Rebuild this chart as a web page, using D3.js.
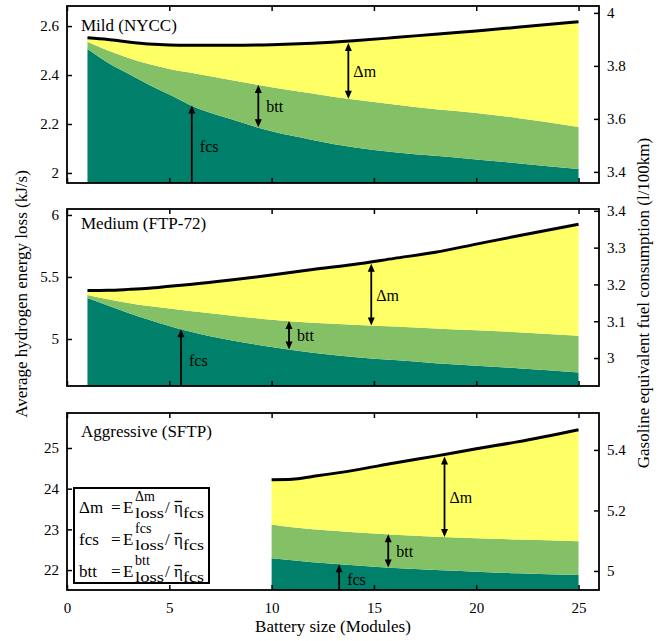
<!DOCTYPE html>
<html>
<head>
<meta charset="utf-8">
<script src="https://cdn.jsdelivr.net/npm/d3@7"></script>
<style>
body { margin: 0; background: #fff; }
text { font-family: "Liberation Serif", "DejaVu Serif", serif; fill: #000; }
</style>
</head>
<body>
<svg id="chart" width="665" height="641"></svg>
<script>
// battery sizes (modules) where values were read
var modules = [1, 2, 3, 4, 5, 6, 8, 10, 12, 14, 16, 18, 20, 22, 25];
var aggrModules = [10, 11, 12, 14, 16, 18, 20, 22, 25];

// Mild (NYCC), kJ/s
var mildFcs = [2.506, 2.45, 2.405, 2.36, 2.32, 2.278, 2.22, 2.17, 2.135, 2.105, 2.085, 2.07, 2.055, 2.04, 2.016];
var mildBtt = [0.030, 0.050, 0.065, 0.085, 0.105, 0.132, 0.160, 0.180, 0.190, 0.195, 0.195, 0.190, 0.190, 0.185, 0.172];
var mildDm  = [0.016, 0.045, 0.065, 0.082, 0.098, 0.112, 0.142, 0.174, 0.205, 0.240, 0.273, 0.307, 0.335, 0.370, 0.430];

// Medium (FTP-72)
var medFcs = [5.33, 5.27, 5.21, 5.155, 5.105, 5.06, 4.99, 4.935, 4.89, 4.855, 4.83, 4.805, 4.785, 4.765, 4.73];
var medBtt = [0.025, 0.05, 0.08, 0.11, 0.14, 0.165, 0.20, 0.22, 0.24, 0.26, 0.27, 0.28, 0.285, 0.29, 0.297];
var medDm  = [0.035, 0.072, 0.11, 0.145, 0.18, 0.215, 0.285, 0.36, 0.43, 0.485, 0.55, 0.615, 0.695, 0.775, 0.898];

// Aggressive (SFTP)
var aggrFcs = [22.29, 22.24, 22.19, 22.12, 22.05, 22.00, 21.96, 21.92, 21.88];
var aggrBtt = [0.83, 0.81, 0.81, 0.81, 0.82, 0.82, 0.82, 0.83, 0.83];
var aggrDm  = [1.10, 1.18, 1.30, 1.52, 1.76, 1.98, 2.20, 2.40, 2.74];

// where the fcs / btt / dm arrows stand (modules)
var mildArrows = [6.1, 9.35, 13.75];
var medArrows = [5.57, 10.85, 14.87];
var aggrArrows = [13.3, 15.7, 18.45];

var xTicks = [0, 5, 10, 15, 20, 25];
var legendNames = ["\u0394m", "fcs", "btt"];

var svg = d3.select("#chart");
var left = 67, right = 599;
var colors = { fcs: "#00806a", btt: "#84c166", dm: "#ffff66" };

var x = d3.scaleLinear().domain([0, 26]).range([left, right]);

var panels = [
  { title: "Mild (NYCC)", top: 6, bottom: 183, titleY: 31,
    yDomain: [1.959, 2.682], yTicks: [2, 2.2, 2.4, 2.6],
    rDomain: [3.358, 4.026], rTicks: [3.4, 3.6, 3.8, 4],
    mods: modules, fcs: mildFcs, btt: mildBtt, dm: mildDm, arrows: mildArrows },
  { title: "Medium (FTP-72)", top: 209, bottom: 386, titleY: 229,
    yDomain: [4.621, 6.048], yTicks: [5, 5.5, 6],
    rDomain: [2.924, 3.405], rTicks: [3, 3.1, 3.2, 3.3, 3.4],
    mods: modules, fcs: medFcs, btt: medBtt, dm: medDm, arrows: medArrows },
  { title: "Aggressive (SFTP)", top: 413, bottom: 590, titleY: 437,
    yDomain: [21.51, 25.86], yTicks: [22, 23, 24, 25],
    rDomain: [4.937, 5.522], rTicks: [5, 5.2, 5.4],
    mods: aggrModules, fcs: aggrFcs, btt: aggrBtt, dm: aggrDm, arrows: aggrArrows, xLabels: true }
];

var defs = svg.append("defs");

function arrowHead(g, ax, ay, dir) {
  // dir -1 = pointing up, 1 = pointing down
  g.append("path")
    .attr("d", "M" + ax + "," + ay + "L" + (ax - 3.5) + "," + (ay - dir * 8) + "L" + (ax + 3.5) + "," + (ay - dir * 8) + "Z")
    .attr("fill", "#000");
}

function drawArrow(g, ax, y1, y2, both) {
  // y1 = upper end, y2 = lower end
  g.append("line")
    .attr("x1", ax).attr("x2", ax)
    .attr("y1", y1 + 4).attr("y2", both ? y2 - 4 : y2)
    .attr("stroke", "#000").attr("stroke-width", 1.8);
  arrowHead(g, ax, y1, -1);
  if (both) arrowHead(g, ax, y2, 1);
}

panels.forEach(function(p, i) {
  var y = d3.scaleLinear().domain(p.yDomain).range([p.bottom, p.top]);
  var yr = d3.scaleLinear().domain(p.rDomain).range([p.bottom, p.top]);

  var rows = p.mods.map(function(m, j) {
    return { x: m, fcs: p.fcs[j], btt: p.btt[j], dm: p.dm[j] };
  });
  var series = d3.stack().keys(["fcs", "btt", "dm"])(rows);

  defs.append("clipPath").attr("id", "clip" + i)
    .append("rect")
    .attr("x", left).attr("y", p.top)
    .attr("width", right - left).attr("height", p.bottom - p.top);

  var g = svg.append("g").attr("clip-path", "url(#clip" + i + ")");

  var area = d3.area()
    .curve(d3.curveMonotoneX)
    .x(function(d) { return x(d.data.x); })
    .y0(function(d) { return Math.min(y(d[0]), p.bottom + 2); })
    .y1(function(d) { return y(d[1]); });

  g.selectAll(".layer")
    .data(series)
    .enter().append("path")
    .attr("class", "layer")
    .attr("d", area)
    .attr("fill", function(d) { return colors[d.key]; });

  var totalLine = d3.line()
    .curve(d3.curveMonotoneX)
    .x(function(d) { return x(d.data.x); })
    .y(function(d) { return y(d[1]); });

  g.append("path")
    .datum(series[2])
    .attr("d", totalLine)
    .attr("fill", "none")
    .attr("stroke", "#000")
    .attr("stroke-width", 3);

  // arrows, ends taken from the stacked boundaries
  var fcsTop = d3.scaleLinear().domain(p.mods).range(series[0].map(function(d) { return d[1]; }));
  var bttTop = d3.scaleLinear().domain(p.mods).range(series[1].map(function(d) { return d[1]; }));
  var dmTop = d3.scaleLinear().domain(p.mods).range(series[2].map(function(d) { return d[1]; }));

  var a = svg.append("g").attr("font-size", 16);
  var xf = x(p.arrows[0]), xb = x(p.arrows[1]), xd = x(p.arrows[2]);
  var yf = y(fcsTop(p.arrows[0]));
  drawArrow(a, xf, yf, p.bottom, false);
  a.append("text").attr("x", xf + 8).attr("y", (yf + p.bottom) / 2 + 8).text("fcs");

  var yb1 = y(bttTop(p.arrows[1])), yb2 = y(fcsTop(p.arrows[1]));
  drawArrow(a, xb, yb1, yb2, true);
  a.append("text").attr("x", xb + 8).attr("y", (yb1 + yb2) / 2 + 6).text("btt");

  var yd1 = y(dmTop(p.arrows[2])) + 2, yd2 = y(bttTop(p.arrows[2]));
  drawArrow(a, xd, yd1, yd2, true);
  a.append("text").attr("x", xd + 5).attr("y", (yd1 + yd2) / 2 + 6).text("\u0394m");

  // axes with inward ticks
  var ax = svg.append("g").attr("font-size", 15);
  var leftAxis = d3.axisLeft(y).tickValues(p.yTicks).tickSize(-5).tickPadding(8).tickFormat(d3.format("~g"));
  var rightAxis = d3.axisRight(yr).tickValues(p.rTicks).tickSize(-5).tickPadding(8).tickFormat(d3.format("~g"));
  var topAxis = d3.axisTop(x).tickValues(xTicks).tickSize(-5).tickFormat("");
  var bottomAxis = d3.axisBottom(x).tickValues(xTicks).tickSize(-5).tickPadding(12)
    .tickFormat(p.xLabels ? d3.format("d") : "");

  [
    ax.append("g").attr("transform", "translate(" + left + ",0)").call(leftAxis),
    ax.append("g").attr("transform", "translate(" + right + ",0)").call(rightAxis),
    ax.append("g").attr("transform", "translate(0," + p.top + ")").call(topAxis),
    ax.append("g").attr("transform", "translate(0," + p.bottom + ")").call(bottomAxis)
  ].forEach(function(s) {
    s.attr("font-family", null).attr("font-size", null);
    s.select(".domain").remove();
    s.selectAll(".tick line").attr("stroke-width", 1.5);
  });

  svg.append("rect")
    .attr("x", left).attr("y", p.top)
    .attr("width", right - left).attr("height", p.bottom - p.top)
    .attr("fill", "none").attr("stroke", "#000").attr("stroke-width", 1.8);

  svg.append("text")
    .attr("x", 81).attr("y", p.titleY)
    .attr("font-size", 17)
    .text(p.title);
});

// legend with the definitions
var lg = svg.append("g");
lg.append("rect")
  .attr("x", 74).attr("y", 488).attr("width", 135).attr("height", 95)
  .attr("fill", "#fff").attr("stroke", "#000").attr("stroke-width", 2);

legendNames.forEach(function(n, i) {
  var by = 513 + i * 32;
  var r = lg.append("g").attr("font-size", 17);
  r.append("text").attr("x", 79).attr("y", by).text(n);
  r.append("text").attr("x", 111).attr("y", by).text("=");
  r.append("text").attr("x", 123).attr("y", by).text("E");
  r.append("text").attr("x", 135).attr("y", by - 12).attr("font-size", 14).text(n);
  r.append("text").attr("x", 135).attr("y", by + 4.5).attr("font-size", 14)
    .attr("textLength", 29).attr("lengthAdjust", "spacingAndGlyphs").text("loss");
  r.append("text").attr("x", 165).attr("y", by).text("/");
  r.append("text").attr("x", 174).attr("y", by).text("\u03b7");
  r.append("line")
    .attr("x1", 174.5).attr("x2", 182)
    .attr("y1", by - 11.5).attr("y2", by - 11.5)
    .attr("stroke", "#000").attr("stroke-width", 1.3);
  r.append("text").attr("x", 183).attr("y", by + 4.5).attr("font-size", 14)
    .attr("textLength", 21).attr("lengthAdjust", "spacingAndGlyphs").text("fcs");
});

// axis titles
svg.append("text")
  .attr("transform", "translate(27,294) rotate(-90)")
  .attr("text-anchor", "middle")
  .attr("font-size", 17)
  .text("Average hydrogen energy loss (kJ/s)");

svg.append("text")
  .attr("transform", "translate(649,303) rotate(-90)")
  .attr("text-anchor", "middle")
  .attr("font-size", 17)
  .text("Gasoline equivalent fuel consumption (l/100km)");

svg.append("text")
  .attr("x", (left + right) / 2).attr("y", 632)
  .attr("text-anchor", "middle")
  .attr("font-size", 17)
  .text("Battery size (Modules)");
</script>
</body>
</html>
